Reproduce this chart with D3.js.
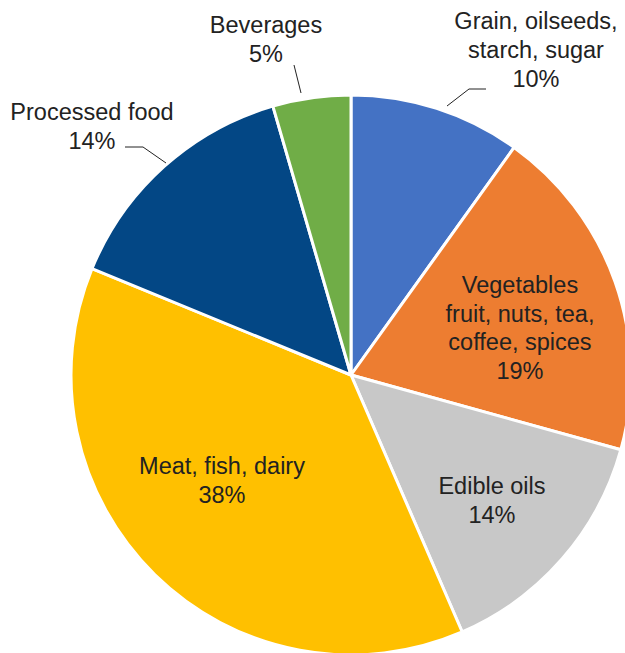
<!DOCTYPE html>
<html lang="en">
<head>
  <meta charset="UTF-8" />
  <title>Food categories share</title>
  <style>
    html, body {
      margin: 0;
      padding: 0;
      background: #fff;
    }
    svg text {
      font-family: "Liberation Sans", Arial, Helvetica, sans-serif;
      font-size: 23.5px;
      fill: #222;
    }
  </style>
</head>
<body>
<svg id="chart" width="625" height="653"></svg>

<script src="https://d3js.org/d3.v7.min.js"></script>
<script>
  // Data, in the order drawn clockwise from 12 o'clock
  const categories = [
    "Grain, oilseeds, starch, sugar",
    "Vegetables fruit, nuts, tea, coffee, spices",
    "Edible oils",
    "Meat, fish, dairy",
    "Processed food",
    "Beverages"
  ];
  const shares = [9.9, 19.4, 14.2, 37.7, 14.3, 4.5];
  const shareLabels = ["10%", "19%", "14%", "38%", "14%", "5%"];
  const labelLines = [
    ["Grain, oilseeds,", "starch, sugar"],
    ["Vegetables", "fruit, nuts, tea,", "coffee, spices"],
    ["Edible oils"],
    ["Meat, fish, dairy"],
    ["Processed food"],
    ["Beverages"]
  ];
  const colors = ["#4472c4", "#ed7d31", "#c8c8c8", "#ffc000", "#034785", "#70ad47"];

  // Layout
  const cx = 351, cy = 375, radius = 280;
  const lineGap = 29;

  // where each label block sits (x centre, first baseline) and its leader line, if any
  const labelSpots = [
    { x: 536, y: 29, leader: [[447, 106], [469, 89], [486, 89]] },
    { x: 520, y: 293, gap: 28.5 },
    { x: 492, y: 494 },
    { x: 222, y: 474 },
    { x: 92, y: 120, leader: [[166, 163], [143, 147], [125, 147]] },
    { x: 266, y: 33, leader: [[301, 93], [294, 65]] }
  ];

  const svg = d3.select("#chart");

  const pie = d3.pie().sort(null).value(d => d);
  const arc = d3.arc().innerRadius(0).outerRadius(radius);

  const g = svg.append("g").attr("transform", `translate(${cx},${cy})`);

  g.selectAll("path.slice")
    .data(pie(shares))
    .enter().append("path")
    .attr("class", "slice")
    .attr("d", arc)
    .attr("fill", (d, i) => colors[i])
    .attr("stroke", "#fff")
    .attr("stroke-width", 3)
    .attr("stroke-linejoin", "round");

  // leader lines
  const line = d3.line();
  svg.selectAll("path.leader")
    .data(labelSpots.filter(s => s.leader))
    .enter().append("path")
    .attr("class", "leader")
    .attr("d", d => line(d.leader))
    .attr("fill", "none")
    .attr("stroke", "#222")
    .attr("stroke-width", 1);

  // labels
  labelSpots.forEach((s, i) => {
    const gap = s.gap || lineGap;
    const lines = labelLines[i].concat([shareLabels[i]]);
    const t = svg.append("text")
      .attr("text-anchor", "middle")
      .attr("x", s.x)
      .attr("y", s.y);
    lines.forEach((txt, k) => {
      t.append("tspan")
        .attr("x", s.x)
        .attr("y", s.y + k * gap)
        .text(txt);
    });
  });
</script>
</body>
</html>
